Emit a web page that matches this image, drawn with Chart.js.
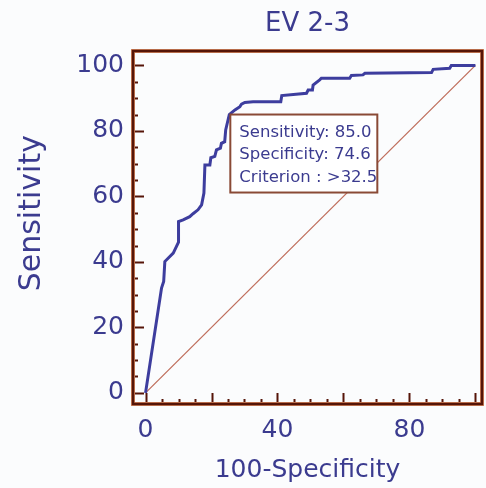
<!DOCTYPE html>
<html><head><meta charset="utf-8">
<script src="https://cdn.jsdelivr.net/npm/chart.js@4"></script>
<style>html,body{margin:0;padding:0;background:#fbfcfd}#c{display:block}</style>
</head><body>
<canvas id="c" width="486" height="488"></canvas>
<script>
// ROC curve vertices (100-Specificity, Sensitivity)
const rocX = [0, 4.85, 5.5, 5.85, 8.4, 10.0, 10.0, 11.4, 13.4, 14.4, 15.9, 17.0, 17.7, 18.0, 19.5, 19.8, 21.0, 21.5, 22.7, 23.0, 24.0, 24.3, 25.4, 27.1, 28.6, 29.1, 30.1, 32.6, 41.0, 41.3, 48.8, 49.3, 50.6, 50.8, 52.8, 53.3, 61.9, 62.4, 65.9, 66.5, 86.7, 87.2, 92.2, 92.7, 100];
const rocY = [0, 32.0, 34.0, 40.1, 42.7, 46.0, 52.3, 52.8, 53.8, 54.7, 55.9, 57.4, 61.0, 69.6, 69.6, 71.8, 72.2, 74.2, 74.7, 76.2, 76.7, 80.3, 85.0, 86.4, 87.4, 88.2, 88.7, 88.9, 88.9, 90.8, 91.5, 92.5, 92.5, 94.0, 95.6, 96.1, 96.1, 96.9, 97.1, 97.6, 97.8, 98.8, 99.1, 100, 100];
const diagX = [0, 100];
const diagY = [0, 100];
const xTickLabels = [0, 40, 80];
const yTickLabels = [0, 20, 40, 60, 80, 100];
const cutSensitivity = 85.0;
const cutSpecificity = 74.6;
const cutCriterion = '>32.5';
const chartTitle = 'EV 2-3';

const TXT = '#3b3b8f';
const FRAME = '#551508';
const FONT = 'DejaVu Sans';

const framePlugin = {
  id: 'framePlugin',
  afterDatasetsDraw(chart) {
    const {ctx, chartArea: a, scales: {x, y}} = chart;
    ctx.save();
    // inward tick marks
    ctx.strokeStyle = FRAME;
    ctx.lineWidth = 2;
    for (let v = 0; v <= 100; v += 5) {
      const major = v % 20 === 0;
      const len = major ? 11 : 5;
      const px = Math.round(x.getPixelForValue(v)) + 0.5;
      ctx.beginPath(); ctx.moveTo(px, a.bottom); ctx.lineTo(px, a.bottom - len); ctx.stroke();
      const py = Math.round(y.getPixelForValue(v)) + 0.5;
      ctx.beginPath(); ctx.moveTo(a.left, py); ctx.lineTo(a.left + len, py); ctx.stroke();
    }
    // frame
    ctx.strokeStyle = '#d98a60';
    ctx.lineWidth = 4;
    ctx.strokeRect(a.left, a.top, a.right - a.left, a.bottom - a.top);
    ctx.strokeStyle = FRAME;
    ctx.lineWidth = 2.5;
    ctx.strokeRect(a.left, a.top, a.right - a.left, a.bottom - a.top);
    // criterion box
    const bx = x.getPixelForValue(100 - cutSpecificity) + 1;
    const by = y.getPixelForValue(cutSensitivity);
    const bw = 147, bh = 78;
    ctx.fillStyle = '#ffffff';
    ctx.fillRect(bx, by, bw, bh);
    ctx.strokeStyle = '#8a4a36';
    ctx.lineWidth = 2;
    ctx.strokeRect(bx, by, bw, bh);
    ctx.fillStyle = TXT;
    ctx.font = '16.5px "' + FONT + '"';
    ctx.textBaseline = 'middle';
    ctx.textAlign = 'left';
    ctx.fillText('Sensitivity: ' + cutSensitivity.toFixed(1), bx + 9, by + 18);
    ctx.fillText('Specificity: ' + cutSpecificity.toFixed(1), bx + 9, by + 40);
    ctx.fillText('Criterion : ' + cutCriterion, bx + 9, by + 63);
    ctx.restore();
  }
};

new Chart(document.getElementById('c'), {
  type: 'scatter',
  data: {
    datasets: [
      {
        data: rocX.map((v, i) => ({x: v, y: rocY[i]})),
        showLine: true, borderColor: '#3d3d9e', borderWidth: 3,
        pointRadius: 0, tension: 0, borderJoinStyle: 'miter'
      },
      {
        data: diagX.map((v, i) => ({x: v, y: diagY[i]})),
        showLine: true, borderColor: '#bf6e5c', borderWidth: 1.3,
        pointRadius: 0
      }
    ]
  },
  options: {
    responsive: false,
    devicePixelRatio: 1,
    animation: false,
    layout: {padding: {left: 0, right: 4, top: 0, bottom: 0}},
    plugins: {
      legend: {display: false},
      tooltip: {enabled: false},
      title: {display: false}
    },
    scales: {
      x: {
        type: 'linear', min: -3.8, max: 102,
        grid: {display: false, drawTicks: false},
        border: {display: false},
        afterBuildTicks: s => { s.ticks = xTickLabels.map(v => ({value: v})); },
        afterFit: s => { s.height = 84; },
        ticks: {color: TXT, padding: 11, font: {family: FONT, size: 25}},
        title: {display: true, text: '100-Specificity', color: TXT,
          font: {family: FONT, size: 25}, padding: {top: 0, bottom: 3}}
      },
      x2: {
        type: 'linear', axis: 'x', position: 'top', min: -3.8, max: 102,
        grid: {display: false, drawTicks: false},
        border: {display: false},
        ticks: {display: false},
        afterFit: s => { s.height = 51; },
        title: {display: true, text: chartTitle, color: TXT,
          font: {family: FONT, size: 26}, padding: {top: 9, bottom: 0}}
      },
      y: {
        type: 'linear', min: -3.4, max: 104.4,
        grid: {display: false, drawTicks: false},
        border: {display: false},
        afterBuildTicks: s => { s.ticks = yTickLabels.map(v => ({value: v})); },
        afterFit: s => { s.width = 133; },
        ticks: {color: TXT, padding: 9, font: {family: FONT, size: 25}},
        title: {display: true, text: '   Sensitivity', color: TXT,
          font: {family: FONT, size: 30}, padding: {top: 14, bottom: 0}}
      }
    }
  },
  plugins: [framePlugin]
});
</script>
</body></html>
